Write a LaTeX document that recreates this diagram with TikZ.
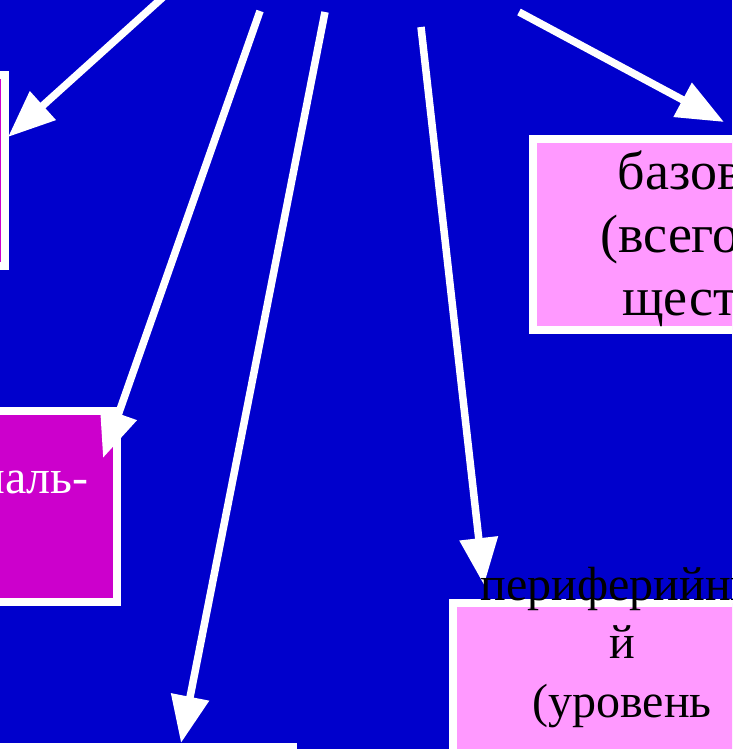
\documentclass[tikz,border=0pt]{standalone}
\usepackage{fontspec}
\setmainfont{Liberation Serif}
\usetikzlibrary{arrows.meta}
\definecolor{bgblue}{HTML}{0000CC}
\definecolor{magbox}{HTML}{CC00CC}
\definecolor{pinkbox}{HTML}{FF99FF}
\begin{document}
\begin{tikzpicture}[x=1pt,y=-1pt,
  box/.style={draw=white, line width=8pt, rectangle, inner sep=0pt, minimum height=191pt},
  link/.style={draw=white, line width=7.5pt, -{Triangle[length=47pt,width=37pt]}},
  basetext/.style={font=\fontsize{54}{63}\selectfont, align=center, inner sep=0pt, anchor=north, text=black},
  pertext/.style={font=\fontsize{48}{58.5}\selectfont, align=center, inner sep=0pt, anchor=north, text=black},
  ]
\useasboundingbox (0,0) rectangle (732,749);
\fill[bgblue] (0,0) rectangle (732,749);
\clip (0,0) rectangle (732,749);
% boxes
\node[box, fill=magbox, minimum width=205pt] (boxA) at (-97.5,170.5) {};
\node[box, fill=magbox, minimum width=367pt] (boxB) at (-66.5,506.5) {};
\node[box, fill=pinkbox, minimum width=360pt] (boxC) at (713,234.5) {};
\node[box, fill=pinkbox, minimum width=338pt] (boxD) at (622,698.5) {};
\node[box, fill=magbox, minimum width=393pt] (boxE) at (96.5,842.5) {};
% connector ends
\coordinate (s1) at (171,-10);
\coordinate (s2) at (260,11);
\coordinate (s3) at (325,12);
\coordinate (s4) at (421,27);
\coordinate (s5) at (519,12);
\coordinate (t1) at (8,137);
\coordinate (t2) at (103,458);
\coordinate (t3) at (181,743);
\coordinate (t4) at (484,585);
\coordinate (t5) at (724,122);
% arrows
\draw[link] (s1) -- (t1);
\draw[link] (s2) -- (t2);
\draw[link] (s3) -- (t3);
\draw[link] (s4) -- (t4);
\draw[link] (s5) -- (t5);
% texts
\node[basetext] (txtC) at (713,144) {\rule{0pt}{45pt}базовый\\(всего об-\\щества)};
\node[pertext] (txtD) at (622,560) {\rule{0pt}{40pt}периферийны\\й\\(уровень};
\node[anchor=base east, inner sep=0pt, text=white, font=\fontsize{48}{57.6}\selectfont] (txtB) at (89,493) {наль-};
\end{tikzpicture}
\end{document}
